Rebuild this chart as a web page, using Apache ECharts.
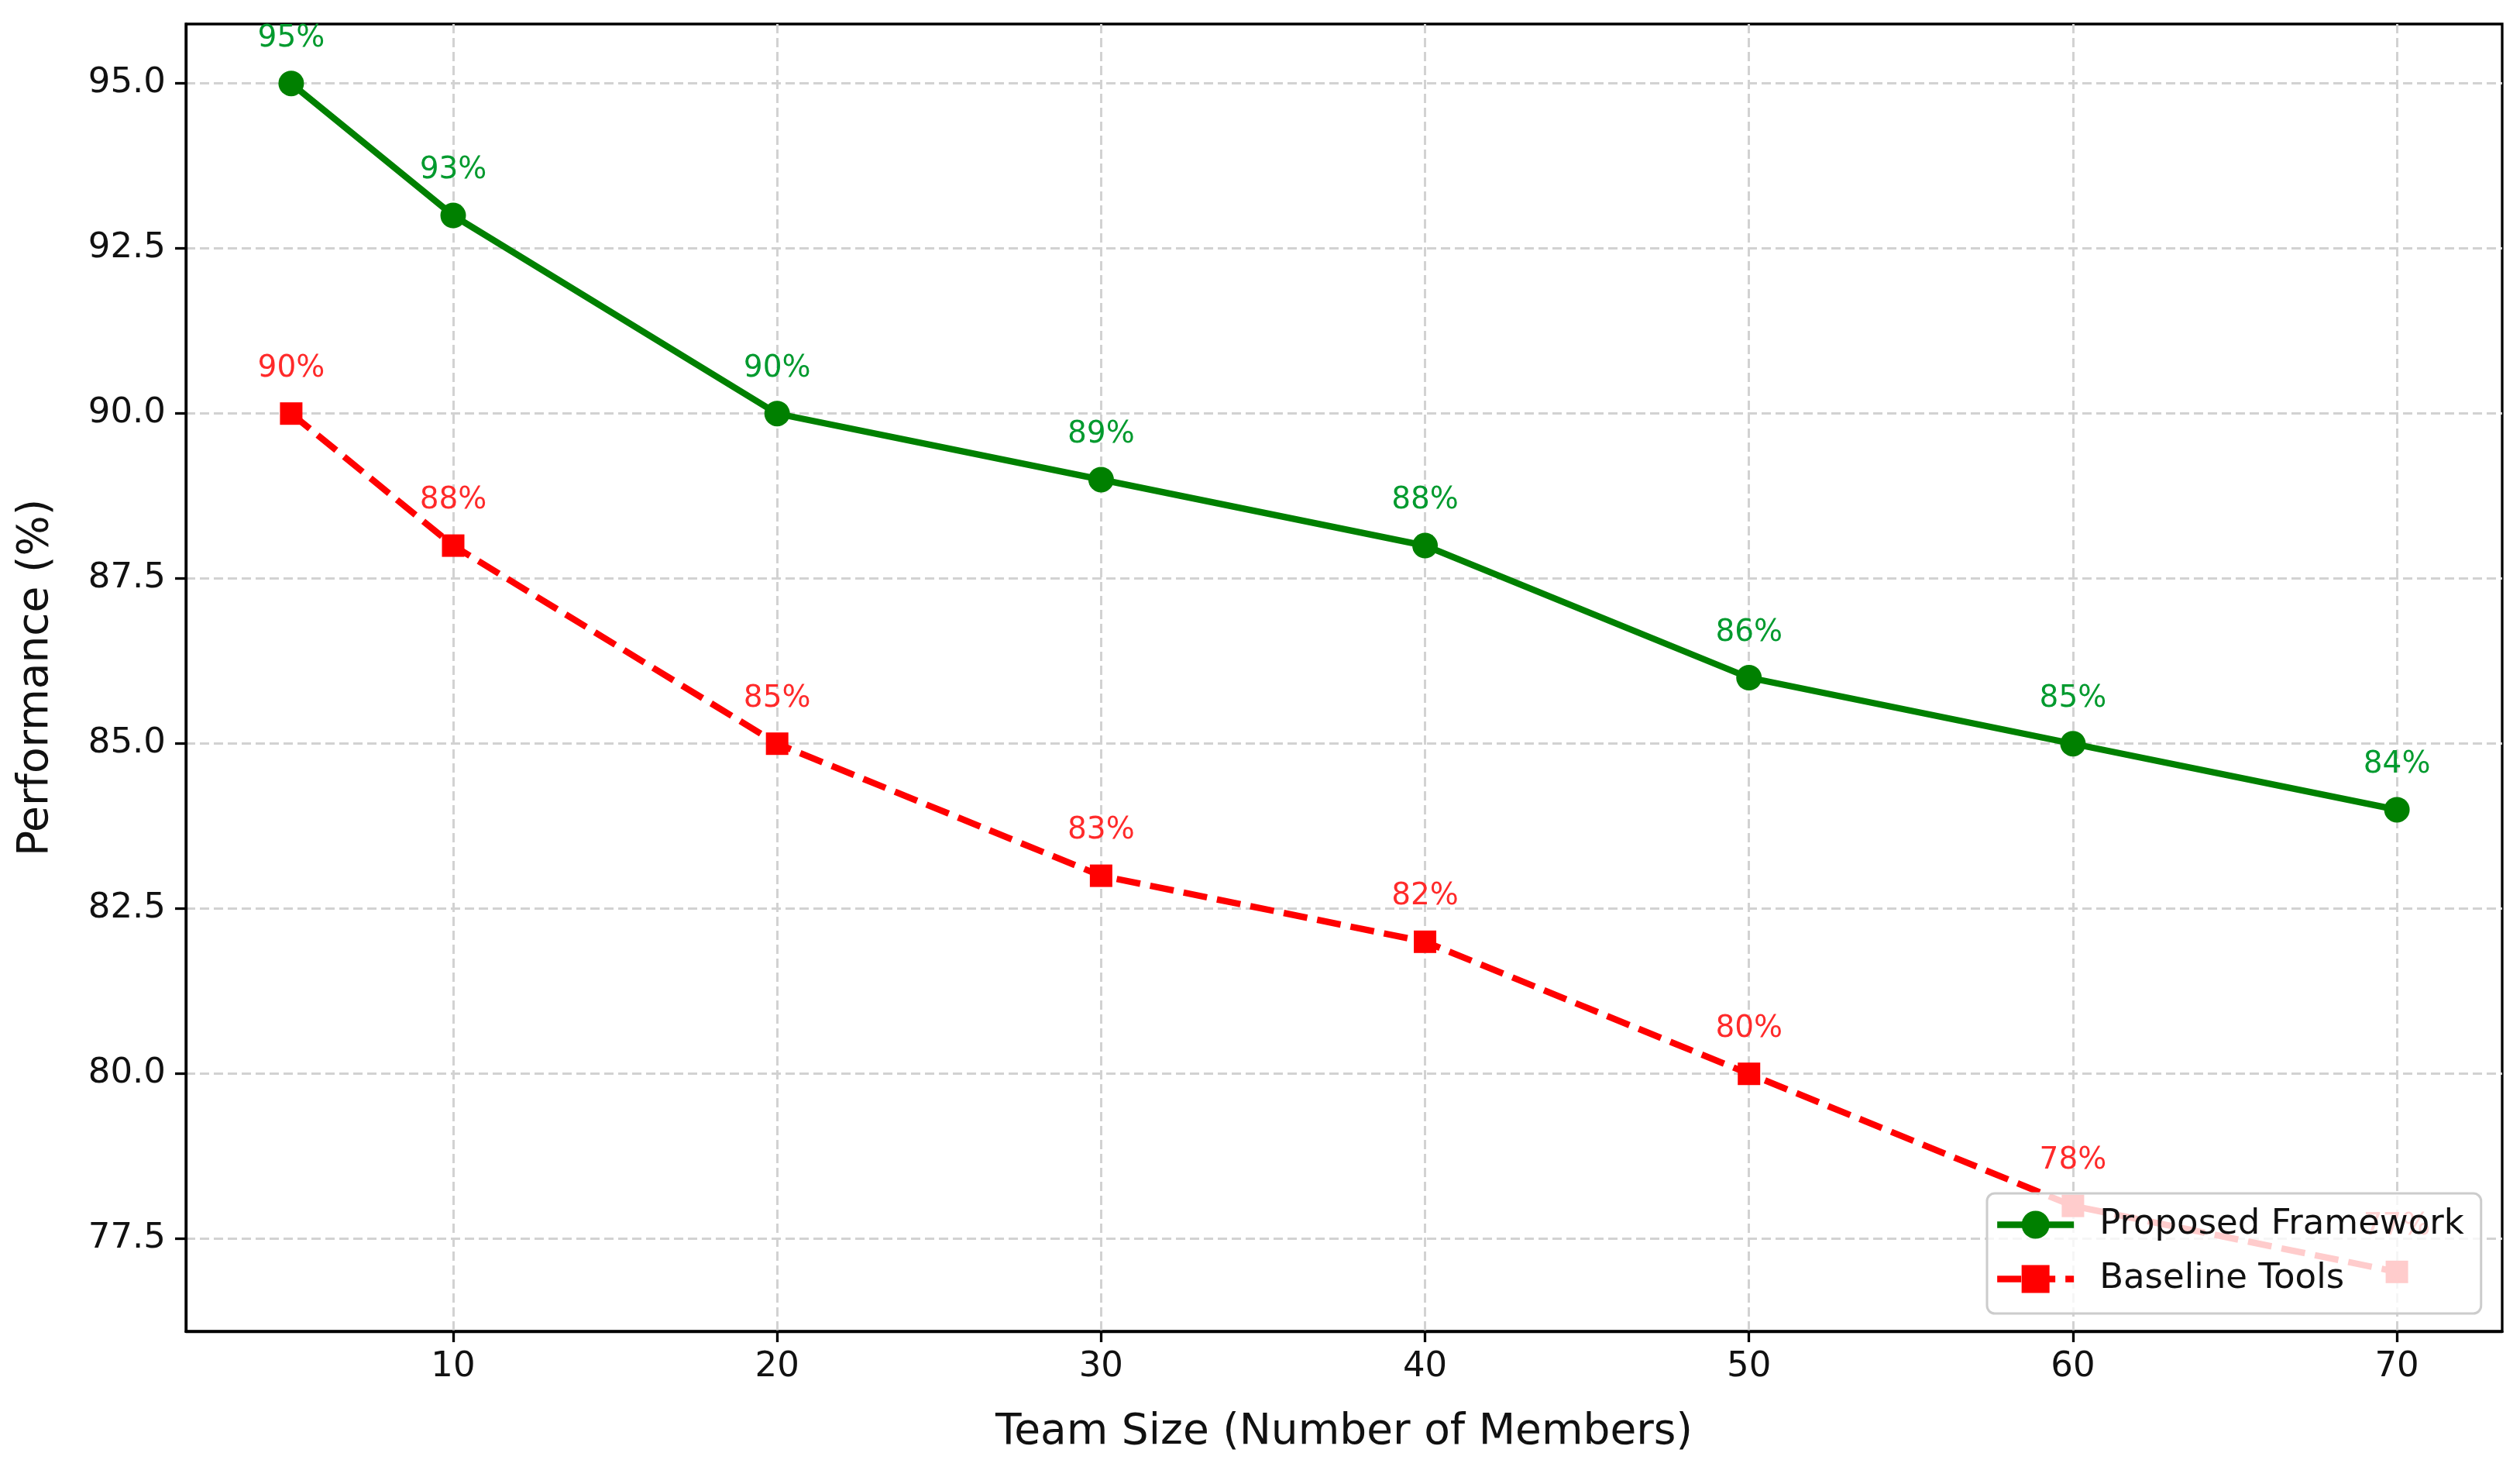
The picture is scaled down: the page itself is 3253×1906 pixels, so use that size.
<!DOCTYPE html>
<html>
<head>
<meta charset="utf-8">
<script src="https://cdn.jsdelivr.net/npm/echarts@6/dist/echarts.min.js"></script>
<style>
html,body{margin:0;padding:0;background:#fff;}
#chart{width:3253px;height:1906px;}
</style>
</head>
<body>
<div id="chart"></div>
<script>
const teamSizes = [5, 10, 20, 30, 40, 50, 60, 70];
const proposedFramework = [95, 93, 90, 89, 88, 86, 85, 84];
const baselineTools = [90, 88, 85, 83, 82, 80, 78, 77];
const xTicks = [10, 20, 30, 40, 50, 60, 70];
const yTicks = [77.5, 80.0, 82.5, 85.0, 87.5, 90.0, 92.5, 95.0];
const seriesNames = ['Proposed Framework', 'Baseline Tools'];
const xName = 'Team Size (Number of Members)';
const yName = 'Performance (%)';

const FONT = 'DejaVu Sans';
const chart = echarts.init(document.getElementById('chart'), null, {renderer: 'canvas'});

const pairs = (xs, ys) => xs.map((x, i) => [x, ys[i]]);

const option = {
  backgroundColor: '#ffffff',
  animation: false,
  grid: {
    left: 240, right: 23, top: 31, bottom: 188,
    show: true, borderColor: '#000', borderWidth: 3.3, backgroundColor: 'transparent'
  },
  xAxis: {
    type: 'value',
    min: 1.75, max: 73.25,
    name: xName,
    nameLocation: 'middle',
    nameGap: 103,
    nameTextStyle: {fontFamily: FONT, fontSize: 55, color: '#111'},
    axisLine: {show: true, onZero: false, lineStyle: {color: '#000', width: 3.3}},
    axisTick: {show: true, inside: false, length: 14, lineStyle: {color: '#000', width: 3.3}, customValues: xTicks},
    axisLabel: {fontFamily: FONT, fontSize: 45, color: '#111', margin: 24, customValues: xTicks},
    splitLine: {show: true, lineStyle: {color: '#d2d2d2', width: 3, type: [12, 6]}}
  },
  yAxis: {
    type: 'value',
    min: 76.1, max: 95.9,
    name: yName,
    nameLocation: 'middle',
    nameGap: 166,
    nameTextStyle: {fontFamily: FONT, fontSize: 55, color: '#111'},
    axisLine: {show: true, onZero: false, lineStyle: {color: '#000', width: 3.3}},
    axisTick: {show: true, inside: false, length: 14, lineStyle: {color: '#000', width: 3.3}, customValues: yTicks},
    axisLabel: {fontFamily: FONT, fontSize: 45, color: '#111', margin: 26, customValues: yTicks,
      formatter: v => Number(v).toFixed(1)},
    splitLine: {show: true, lineStyle: {color: '#d2d2d2', width: 3, type: [12, 6]}}
  },
  legend: {
    show: true,
    orient: 'vertical',
    left: 2565, top: 1540,
    padding: [18, 22, 22, 9],
    itemGap: 25,
    itemWidth: 99,
    itemHeight: 45,
    backgroundColor: 'rgba(255,255,255,0.8)',
    borderColor: '#cccccc',
    borderWidth: 3,
    borderRadius: 10,
    lineStyle: {width: 8.3},
    textStyle: {fontFamily: FONT, fontSize: 45, color: '#111', padding: [0, 0, 0, 28]},
    data: seriesNames,
    z: 10
  },
  series: [
    {
      name: seriesNames[0],
      type: 'line',
      data: pairs(teamSizes, proposedFramework),
      symbol: 'circle',
      symbolSize: 33,
      lineStyle: {color: '#008000', width: 8.3},
      itemStyle: {color: '#008000'},
      label: {show: true, position: 'top', distance: 22, formatter: p => p.value[1] + '%',
        fontFamily: FONT, fontSize: 39, color: '#009a2e'},
      z: 3
    },
    {
      name: seriesNames[1],
      type: 'line',
      data: pairs(teamSizes, baselineTools),
      symbol: 'rect',
      symbolSize: 29,
      lineStyle: {color: '#ff0000', width: 8.3, type: [31, 13]},
      itemStyle: {color: '#ff0000'},
      label: {show: true, position: 'top', distance: 24, formatter: p => p.value[1] + '%',
        fontFamily: FONT, fontSize: 39, color: '#ff2a2a'},
      z: 2
    }
  ]
};
chart.setOption(option);
</script>
</body>
</html>
